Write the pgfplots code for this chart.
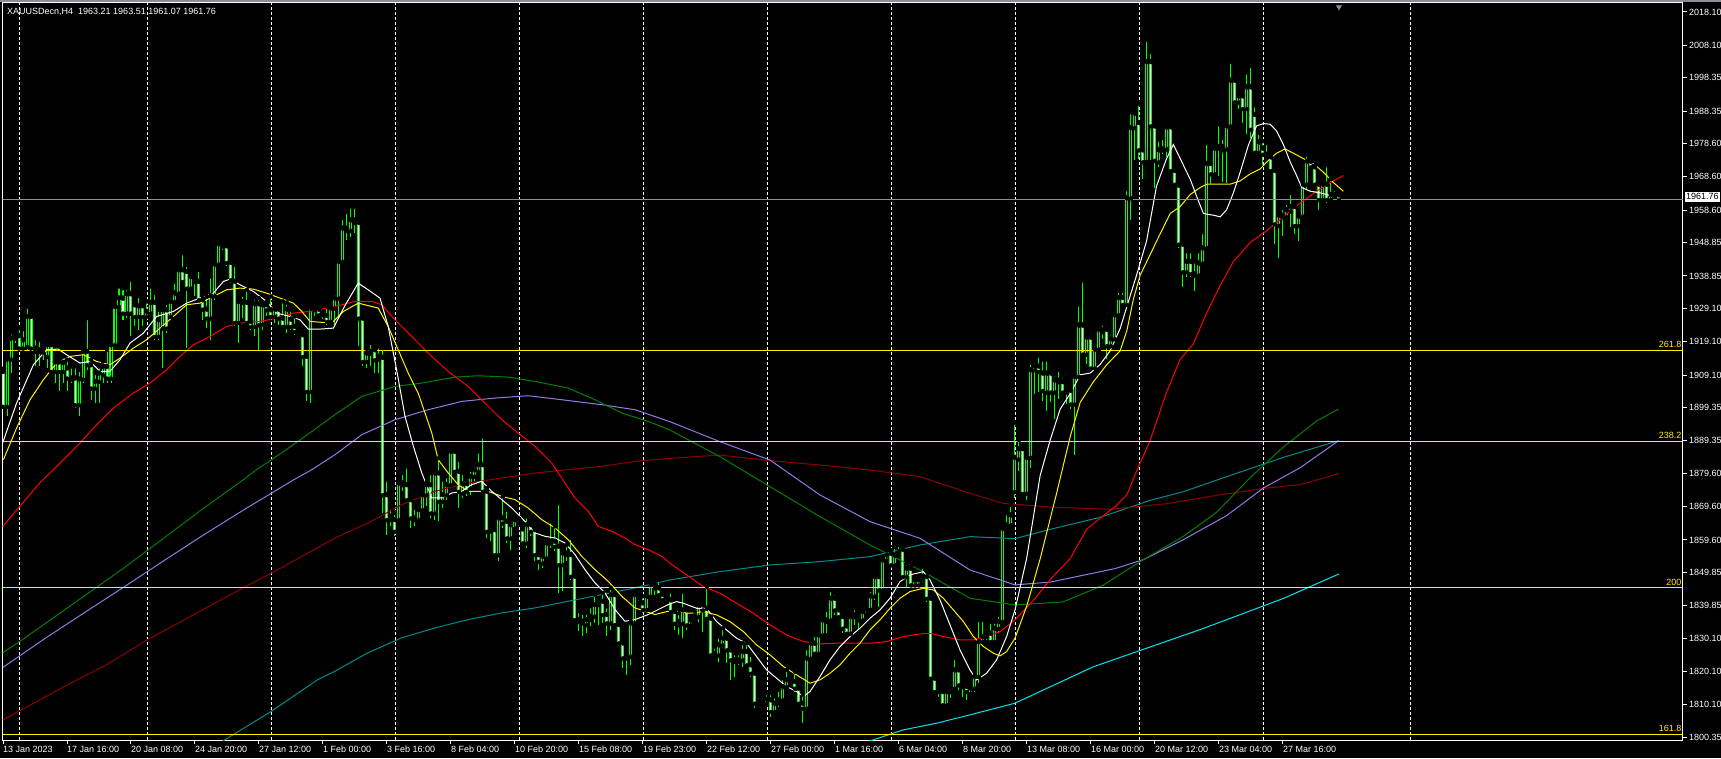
\documentclass[border=0pt]{standalone}
\usepackage{fontspec}
\setmainfont{Liberation Sans}
\usepackage{pgfplots}
\usepackage{pgfplotstable}
\pgfplotsset{compat=1.18}

\definecolor{cdl}{RGB}{0,255,0}
\definecolor{mared}{RGB}{255,0,0}
\definecolor{mamaroon}{RGB}{140,0,0}
\definecolor{magreen}{RGB}{0,128,0}
\definecolor{mapurple}{RGB}{150,120,230}
\definecolor{mateal}{RGB}{0,140,140}
\definecolor{macyan}{RGB}{0,230,240}
\definecolor{bidgray}{RGB}{140,140,150}
\newcommand\lab{\fontsize{9}{10}\selectfont}

% XAUUSD H4 candles: bar index, open, high, low, close
\pgfplotstableread{
i o h l c
0 1910.2 1911.0 1899.5 1899.7
1 1899.7 1914.7 1896.7 1913.9
2 1913.9 1921.9 1909.7 1920.2
3 1920.2 1921.9 1918.7 1920.9
4 1920.9 1923.2 1916.7 1917.2
5 1917.2 1922.9 1917.0 1919.7
6 1917.7 1929.7 1916.7 1926.7
7 1926.7 1927.2 1916.2 1917.2
8 1917.2 1920.2 1911.7 1916.2
9 1916.2 1919.7 1911.7 1916.7
10 1916.7 1917.7 1913.7 1916.0
11 1914.7 1919.2 1911.2 1918.2
12 1918.2 1919.2 1909.7 1910.2
13 1910.2 1913.2 1906.7 1913.0
14 1913.0 1913.2 1904.2 1910.2
15 1910.2 1914.7 1906.7 1912.9
16 1911.2 1913.7 1904.2 1908.2
17 1908.2 1911.7 1906.7 1907.9
18 1908.2 1911.7 1899.2 1900.2
19 1900.2 1910.7 1896.7 1907.9
20 1907.9 1917.2 1906.7 1916.2
21 1916.2 1926.2 1910.7 1912.2
22 1912.2 1913.7 1901.7 1905.2
23 1905.2 1909.7 1900.7 1907.2
24 1907.2 1911.7 1900.7 1909.7
25 1909.2 1913.2 1906.7 1911.7
26 1911.7 1916.7 1906.7 1908.2
27 1908.2 1918.7 1906.7 1918.2
28 1918.2 1930.2 1918.0 1929.7
29 1929.7 1935.7 1929.2 1932.2
30 1932.2 1935.2 1925.7 1927.7
31 1927.7 1935.2 1926.2 1933.5
32 1933.5 1937.7 1920.7 1927.7
33 1930.2 1931.2 1923.7 1926.7
34 1926.7 1932.9 1922.7 1929.9
35 1929.9 1930.2 1923.7 1926.7
36 1926.7 1931.2 1926.2 1928.2
37 1927.7 1935.7 1927.5 1930.9
38 1930.9 1933.7 1919.7 1920.7
39 1920.7 1928.7 1919.7 1925.7
40 1923.2 1929.7 1911.2 1928.7
41 1928.7 1930.7 1921.7 1923.2
42 1926.7 1932.7 1926.2 1931.2
43 1931.2 1937.2 1931.0 1933.7
44 1933.7 1941.7 1933.2 1940.7
45 1940.7 1945.7 1936.7 1937.2
46 1940.2 1942.2 1917.2 1935.2
47 1935.2 1938.9 1934.7 1938.7
48 1938.2 1938.7 1932.7 1937.2
49 1937.2 1940.7 1930.7 1931.7
50 1931.7 1932.2 1925.7 1928.9
51 1928.9 1932.7 1923.2 1926.2
52 1926.2 1938.7 1919.7 1932.9
53 1932.9 1942.9 1931.7 1942.4
54 1942.4 1949.2 1941.7 1948.5
55 1948.5 1949.5 1946.7 1947.7
56 1947.9 1949.2 1941.7 1942.9
57 1942.9 1943.2 1936.7 1937.7
58 1937.2 1942.2 1923.7 1924.9
59 1924.9 1931.5 1918.7 1931.2
60 1931.2 1933.2 1926.2 1930.9
61 1930.9 1934.7 1924.7 1924.9
62 1925.2 1925.5 1922.7 1923.7
63 1923.7 1932.2 1920.7 1930.5
64 1930.5 1932.2 1916.7 1924.2
65 1924.4 1930.7 1922.7 1930.2
66 1930.2 1931.2 1926.7 1928.7
67 1928.7 1932.7 1925.7 1926.7
68 1926.7 1930.2 1924.7 1928.9
69 1928.9 1929.7 1924.2 1926.2
70 1926.2 1931.2 1923.2 1923.7
71 1923.7 1930.9 1921.7 1928.9
72 1925.9 1928.7 1922.7 1923.7
73 1923.7 1926.7 1921.2 1922.2
74 1922.2 1922.7 1920.7 1921.2
75 1921.2 1921.5 1911.7 1914.7
76 1914.7 1915.2 1901.2 1904.2
77 1904.2 1929.7 1900.7 1929.2
78 1929.2 1929.7 1926.7 1928.7
79 1928.9 1929.2 1926.7 1927.2
80 1927.2 1928.2 1925.9 1927.7
81 1927.0 1929.7 1924.2 1925.2
82 1925.2 1929.7 1924.7 1929.2
83 1929.2 1933.7 1924.2 1932.2
84 1932.2 1943.7 1926.7 1943.2
85 1943.2 1956.2 1942.7 1953.2
86 1953.2 1958.2 1949.7 1952.5
87 1952.5 1959.7 1950.7 1955.7
88 1955.7 1959.7 1951.7 1954.9
89 1954.9 1955.2 1917.7 1926.2
90 1926.2 1926.7 1911.7 1913.2
91 1913.2 1916.0 1911.2 1915.7
92 1915.7 1918.7 1911.7 1916.2
93 1916.7 1917.2 1909.7 1913.7
94 1913.9 1917.7 1909.7 1914.7
95 1914.4 1917.2 1867.7 1873.2
96 1873.2 1877.7 1861.2 1865.7
97 1865.7 1869.2 1863.7 1866.7
98 1865.7 1867.7 1860.7 1862.2
99 1865.7 1877.2 1865.2 1876.7
100 1876.7 1879.7 1874.2 1876.2
101 1876.2 1881.7 1871.2 1871.7
102 1871.7 1872.2 1863.2 1866.2
103 1866.2 1869.2 1863.7 1865.7
104 1865.7 1870.2 1865.2 1868.7
105 1868.7 1874.7 1868.2 1873.2
106 1873.2 1877.2 1869.7 1876.2
107 1876.2 1879.7 1866.2 1867.7
108 1867.7 1880.2 1865.7 1879.7
109 1879.7 1884.2 1865.2 1871.2
110 1871.2 1877.7 1869.2 1873.2
111 1873.2 1878.7 1871.7 1876.2
112 1876.2 1886.7 1875.2 1886.2
113 1886.2 1886.7 1879.7 1880.2
114 1880.2 1883.7 1869.2 1874.2
115 1873.7 1879.7 1872.2 1876.5
116 1876.5 1877.2 1872.7 1874.2
117 1875.2 1880.7 1873.2 1878.7
118 1878.7 1882.2 1877.2 1880.7
119 1880.2 1886.2 1879.7 1882.2
120 1882.2 1890.7 1873.7 1874.2
121 1874.2 1875.2 1860.2 1862.2
122 1862.2 1863.7 1859.2 1863.2
123 1862.7 1863.7 1854.7 1855.2
124 1855.2 1866.7 1853.2 1866.2
125 1866.2 1872.7 1863.2 1864.7
126 1865.2 1868.7 1858.7 1860.2
127 1860.2 1865.7 1856.7 1864.2
128 1863.2 1866.2 1862.7 1865.7
129 1865.7 1866.0 1863.7 1864.7
130 1862.9 1864.2 1857.7 1858.7
131 1858.7 1866.7 1857.2 1864.2
132 1864.2 1864.7 1860.7 1862.2
133 1862.7 1863.7 1853.2 1855.2
134 1855.2 1855.7 1850.7 1853.2
135 1852.7 1855.2 1851.2 1854.7
136 1854.2 1859.2 1853.7 1858.7
137 1858.7 1865.2 1857.2 1859.2
138 1859.2 1863.7 1856.2 1857.7
139 1857.7 1870.7 1843.7 1852.2
140 1852.2 1856.7 1844.2 1855.7
141 1855.7 1858.2 1853.2 1855.2
142 1855.2 1860.2 1847.7 1848.7
143 1848.7 1849.2 1835.2 1835.7
144 1835.7 1838.2 1832.2 1835.2
145 1835.2 1837.7 1830.7 1834.7
146 1834.2 1837.7 1831.7 1835.7
147 1835.7 1839.7 1833.7 1836.7
148 1836.7 1843.2 1834.7 1840.2
149 1840.2 1842.2 1834.2 1841.2
150 1841.2 1843.7 1834.7 1837.2
151 1837.2 1839.7 1830.7 1834.7
152 1834.7 1845.2 1832.7 1843.2
153 1843.2 1843.7 1833.7 1834.2
154 1834.2 1834.7 1827.7 1828.7
155 1828.7 1829.2 1821.2 1824.2
156 1824.2 1825.7 1819.2 1824.7
157 1824.7 1835.2 1822.2 1834.7
158 1834.7 1843.7 1834.2 1843.2
159 1843.2 1844.2 1841.2 1842.2
160 1840.7 1842.7 1837.7 1838.7
161 1838.7 1843.2 1838.2 1842.7
162 1842.7 1847.7 1842.2 1846.2
163 1846.2 1847.7 1843.2 1845.2
164 1845.2 1847.7 1842.7 1843.2
165 1843.2 1844.2 1841.2 1841.7
166 1842.2 1842.7 1840.7 1841.2
167 1841.6 1844.1 1837.6 1838.1
168 1838.1 1839.1 1832.6 1834.6
169 1835.1 1837.6 1831.1 1834.1
170 1834.6 1844.1 1830.1 1838.6
171 1838.6 1839.1 1832.6 1834.1
172 1834.1 1836.6 1833.6 1835.6
173 1835.6 1838.1 1835.1 1836.6
174 1836.6 1840.6 1835.1 1840.1
175 1840.1 1841.1 1832.1 1838.6
176 1839.1 1845.6 1835.6 1836.1
177 1836.1 1836.6 1824.6 1825.1
178 1825.6 1827.6 1824.1 1824.6
179 1825.1 1830.6 1823.1 1828.1
180 1828.1 1833.1 1827.1 1830.1
181 1830.1 1830.3 1822.6 1826.6
182 1826.6 1827.6 1817.6 1823.6
183 1823.6 1825.6 1818.6 1823.1
184 1823.1 1825.6 1822.1 1823.6
185 1823.6 1828.6 1821.6 1826.1
186 1826.1 1828.6 1821.6 1822.1
187 1822.1 1825.1 1818.6 1819.6
188 1819.6 1819.8 1809.1 1810.6
189 1810.6 1812.6 1810.1 1811.1
190 1811.1 1812.6 1810.1 1810.6
191 1810.6 1813.6 1810.3 1811.8
192 1811.6 1813.6 1806.6 1808.1
193 1808.1 1812.6 1807.6 1810.6
194 1810.6 1814.6 1809.6 1811.6
195 1811.6 1818.1 1811.1 1815.6
196 1815.6 1820.6 1815.1 1817.6
197 1817.6 1819.1 1816.6 1817.1
198 1817.1 1820.1 1814.1 1815.1
199 1815.1 1815.6 1810.1 1810.6
200 1810.6 1813.1 1804.6 1809.1
201 1809.1 1827.1 1808.6 1824.1
202 1824.1 1829.1 1823.6 1828.6
203 1828.6 1831.1 1825.1 1825.6
204 1825.6 1831.6 1825.1 1831.1
205 1831.1 1836.1 1830.6 1835.6
206 1835.6 1838.6 1831.6 1835.1
207 1835.6 1844.6 1835.1 1842.1
208 1842.1 1843.6 1837.1 1838.6
209 1838.6 1839.1 1836.1 1836.6
210 1836.6 1837.1 1831.6 1833.1
211 1833.8 1834.6 1831.1 1831.6
212 1831.6 1837.6 1831.1 1836.6
213 1836.6 1839.1 1834.1 1837.1
214 1836.6 1837.1 1832.6 1835.6
215 1835.6 1838.6 1835.1 1838.1
216 1837.6 1839.6 1837.1 1838.8
217 1838.8 1844.6 1838.1 1842.8
218 1842.8 1849.1 1841.6 1848.6
219 1848.6 1849.1 1839.6 1844.6
220 1844.6 1854.6 1844.1 1853.6
221 1853.6 1856.6 1853.1 1855.1
222 1855.6 1856.6 1851.6 1852.1
223 1852.1 1857.6 1851.6 1855.1
224 1855.1 1858.1 1854.6 1856.1
225 1856.8 1857.1 1848.1 1848.6
226 1848.6 1852.6 1845.6 1851.1
227 1851.1 1851.6 1845.6 1846.1
228 1846.1 1848.6 1845.6 1847.6
229 1847.6 1848.6 1845.1 1846.1
230 1847.6 1851.6 1846.6 1848.6
231 1848.6 1850.1 1841.1 1842.1
232 1842.1 1842.6 1817.6 1818.1
233 1818.1 1818.6 1813.6 1814.1
234 1814.1 1815.1 1812.6 1814.4
235 1814.1 1814.6 1809.6 1810.1
236 1810.1 1814.6 1809.6 1814.1
237 1814.1 1816.6 1812.1 1815.1
238 1815.1 1824.1 1814.6 1820.6
239 1820.6 1822.1 1814.6 1816.1
240 1816.1 1816.6 1812.6 1815.6
241 1815.6 1816.1 1811.6 1814.1
242 1813.6 1815.6 1813.1 1815.1
243 1815.1 1819.1 1814.1 1818.6
244 1818.6 1835.6 1816.6 1829.1
245 1829.1 1835.6 1828.6 1830.6
246 1830.6 1833.1 1829.6 1831.6
247 1831.6 1835.1 1828.6 1829.1
248 1829.1 1835.1 1828.6 1833.1
249 1833.1 1837.1 1831.6 1835.1
250 1835.1 1863.6 1834.6 1863.1
251 1863.1 1867.6 1862.6 1864.1
252 1864.1 1870.1 1863.6 1867.1
253 1874.1 1894.8 1872.1 1884.4
254 1883.9 1889.6 1880.3 1887.0
255 1887.0 1887.5 1873.1 1873.6
256 1873.6 1885.5 1871.6 1884.4
257 1884.4 1912.8 1881.3 1910.7
258 1910.7 1913.3 1903.5 1911.8
259 1911.8 1914.9 1904.0 1910.2
260 1909.7 1913.8 1901.4 1904.5
261 1904.0 1913.8 1898.4 1909.7
262 1909.7 1910.7 1901.0 1904.0
263 1904.0 1909.2 1895.8 1907.6
264 1907.6 1910.7 1902.0 1907.1
265 1907.1 1908.7 1903.5 1904.0
266 1904.0 1905.6 1900.4 1904.5
267 1904.5 1905.6 1898.8 1900.4
268 1900.4 1908.9 1885.0 1908.7
269 1908.7 1930.3 1908.2 1924.1
270 1924.1 1937.5 1914.9 1915.4
271 1915.4 1921.6 1912.3 1920.5
272 1920.5 1921.0 1911.0 1911.2
273 1911.2 1918.5 1910.7 1916.9
274 1916.9 1923.6 1916.4 1922.8
275 1922.8 1924.6 1920.0 1922.1
276 1922.8 1924.1 1913.8 1917.9
277 1917.9 1921.6 1917.4 1920.0
278 1920.0 1927.7 1919.5 1927.2
279 1927.2 1934.4 1926.7 1932.4
280 1932.4 1934.4 1929.8 1930.3
281 1930.3 1964.9 1929.8 1962.3
282 1962.3 1988.0 1955.6 1983.4
283 1983.4 1988.0 1973.6 1987.7
284 1984.9 1990.6 1974.1 1976.7
285 1976.7 1977.2 1968.0 1973.1
286 1973.3 2009.7 1973.1 2003.2
287 2003.2 2006.1 1973.6 1983.9
288 1983.9 1984.4 1965.4 1973.6
289 1973.1 1979.8 1971.5 1976.7
290 1976.7 1980.3 1975.6 1977.0
291 1977.0 1984.9 1974.6 1983.6
292 1983.6 1984.4 1970.0 1970.5
293 1970.5 1971.0 1965.9 1966.4
294 1966.1 1967.4 1947.3 1948.4
295 1948.4 1948.9 1935.5 1940.1
296 1940.1 1946.3 1938.6 1943.2
297 1943.2 1946.3 1938.6 1939.6
298 1939.6 1943.2 1934.4 1939.1
299 1939.1 1946.3 1938.6 1942.7
300 1942.7 1952.0 1942.2 1947.3
301 1947.3 1978.8 1946.8 1972.6
302 1972.6 1973.1 1966.4 1969.5
303 1969.5 1977.7 1969.0 1977.2
304 1977.2 1984.4 1969.0 1977.7
305 1977.7 1980.3 1967.0 1976.7
306 1977.0 1984.4 1966.9 1983.9
307 1983.9 2003.2 1983.4 1997.6
308 1997.6 1998.9 1990.6 1991.1
309 1991.1 1993.2 1989.1 1992.9
310 1992.9 1993.2 1984.9 1989.1
311 1989.1 2000.0 1981.4 1995.6
312 1995.6 2002.0 1980.3 1982.9
313 1987.3 1990.1 1975.7 1976.0
314 1976.0 1981.9 1975.2 1979.1
315 1977.2 1979.3 1972.1 1975.4
316 1975.4 1978.8 1974.1 1974.6
317 1974.6 1975.7 1970.0 1970.5
318 1970.5 1971.5 1948.4 1954.5
319 1954.0 1957.6 1944.2 1957.1
320 1957.1 1959.2 1950.9 1956.6
321 1956.6 1960.7 1956.2 1958.7
322 1958.3 1963.8 1953.5 1959.7
323 1959.7 1960.7 1951.4 1954.0
324 1954.0 1957.6 1949.4 1956.8
325 1956.8 1966.9 1956.6 1966.4
326 1966.4 1975.2 1964.9 1973.3
327 1973.3 1974.1 1971.0 1971.6
328 1971.6 1972.1 1965.9 1966.4
329 1966.4 1966.9 1958.7 1961.8
330 1961.8 1967.4 1961.2 1966.4
331 1966.4 1972.1 1960.7 1961.8
332 1961.8 1967.9 1961.2 1963.3
333 1963.3 1964.9 1962.3 1962.8
334 1963.21 1963.51 1961.07 1961.76
}\candles

\begin{document}
\begin{tikzpicture}[x=1pt,y=1pt]
\fill[black] (-2.5,-18) rectangle (1718.5,740);
\useasboundingbox (-2.5,-18) rectangle (1718.5,740);
\fill[bidgray] (-2.5,738.4) rectangle (1718.5,740);
\begin{axis}[
  at={(0,0)}, anchor=south west,
  scale only axis, width=1680.5pt, height=737pt,
  xmin=-0.125, xmax=420, ymin=1799.55, ymax=2020.8,
  axis line style={white, line width=1pt},
  tick align=outside, major tick length=4pt,
  tick style={white, line width=1pt},
  xtick pos=left, xticklabel pos=left,
  ytick pos=right, yticklabel pos=right,
  ticklabel style={font=\lab, text=white, inner sep=0pt},
  xticklabel style={anchor=north west, yshift=-2pt},
  yticklabel style={anchor=west, xshift=2pt},
  xtick={0,16,...,320},
  xticklabels={13 Jan 2023,17 Jan 16:00,20 Jan 08:00,24 Jan 20:00,27 Jan 12:00,1 Feb 00:00,3 Feb 16:00,8 Feb 04:00,10 Feb 20:00,15 Feb 08:00,19 Feb 23:00,22 Feb 12:00,27 Feb 00:00,1 Mar 16:00,6 Mar 04:00,8 Mar 20:00,13 Mar 08:00,16 Mar 00:00,20 Mar 12:00,23 Mar 04:00,27 Mar 16:00},
  ytick={1800.35,1810.10,1820.10,1830.10,1839.85,1849.85,1859.60,1869.60,1879.60,1889.35,1899.35,1909.10,1919.10,1929.10,1938.85,1948.85,1958.60,1968.60,1978.60,1988.35,1998.35,2008.10,2018.10},
  yticklabels={1800.35,1810.10,1820.10,1830.10,1839.85,1849.85,1859.60,1869.60,1879.60,1889.35,1899.35,1909.10,1919.10,1929.10,1938.85,1948.85,1958.60,1968.60,1978.60,1988.35,1998.35,2008.10,2018.10},
  extra x ticks={4.08,36.08,67.2,98.1,129.1,160.1,191.1,222.1,253.1,284.1,315.1,352},
  extra x tick labels={},
  extra x tick style={grid=major, major tick length=0pt},
  major grid style={white, line width=1pt, dash pattern=on 3pt off 2pt},
]
% wicks
\addplot[only marks, mark=none, error bars/.cd, y dir=minus, y explicit, error mark=none,
  error bar style={draw=cdl, line width=1pt}]
  table[x=i, y=h, y error minus expr={\thisrow{h}-\thisrow{l}}] {\candles};
% bodies
\addplot[only marks, mark=none, error bars/.cd, y dir=minus, y explicit, error mark=none,
  error bar style={draw=cdl, line width=3pt}]
  table[x=i, y expr={max(\thisrow{o},\thisrow{c})+0.15}, y error minus expr={abs(\thisrow{o}-\thisrow{c})+0.3}] {\candles};
% bear candle fill
\addplot[only marks, mark=none, error bars/.cd, y dir=minus, y explicit, error mark=none,
  error bar style={draw=white, line width=1pt}]
  table[x=i, y expr={\thisrow{o}-0.15}, y error minus expr={max(\thisrow{o}-\thisrow{c}-0.3,0)}] {\candles};
% bull candle fill
\addplot[only marks, mark=none, error bars/.cd, y dir=minus, y explicit, error mark=none,
  error bar style={draw=black, line width=1pt}]
  table[x=i, y expr={\thisrow{c}-0.15}, y error minus expr={max(\thisrow{c}-\thisrow{o}-0.3,0)}] {\candles};

% moving averages
\addplot[macyan, line width=1pt] coordinates {(205,1795) (217.6,1799.6) (225.1,1802.6) (233.4,1804.6) (241.75,1807.1) (253,1810.6) (272.5,1821.5) (300,1833.0) (320,1842) (334,1849.4)};
\addplot[mateal, line width=1pt] coordinates {(50,1795.5) (55.6,1799.7) (67,1808.1) (78.6,1817.6) (83,1820.2) (91,1825.6) (99.6,1830.2) (108,1833.2) (116.3,1835.7) (124.7,1837.7) (133,1839.2) (141.3,1841.2) (149.7,1843.2) (158,1845.2) (166.75,1847.6) (179.25,1850.1) (191.75,1852.1) (204.25,1853.1) (216.75,1854.6) (229.25,1858.1) (241.75,1860.6) (253,1860.0) (261.8,1862.8) (274.3,1866.4) (286.8,1871.5) (295.1,1874.1) (307.6,1879.3) (320.1,1884.4) (333.9,1889.4)};
\addplot[mamaroon, line width=1pt] coordinates {(-0.2,1805.5) (4,1808.2) (16.4,1816.3) (26,1822.2) (36,1829.6) (50,1838.7) (60,1845.2) (70,1851.5) (83,1860.2) (91.3,1864.7) (99.7,1870.2) (108,1874.2) (116.3,1876.7) (124.7,1878.2) (133,1879.7) (141.3,1880.7) (149.7,1881.7) (158,1883.2) (166.75,1884.1) (179.25,1885.1) (191.75,1883.4) (204.25,1882.1) (216.75,1880.6) (229.25,1878.6) (241.75,1873.6) (250,1870.6) (261.8,1869.5) (276.8,1868.8) (291,1870.5) (303.4,1873.0) (316,1875.2) (324.3,1876.2) (334,1879.5)};
\addplot[mapurple, line width=1pt] coordinates {(-0.2,1821.2) (10.7,1830.2) (20,1837.5) (30,1845.3) (40,1853.2) (50,1861) (60,1868.5) (72.6,1877.6) (77.2,1880.7) (83,1885.2) (89.7,1891.2) (98,1895.7) (106.3,1898.7) (114.7,1901.2) (123,1902.2) (131.3,1902.9) (139.7,1901.7) (149.7,1900.2) (158,1898.7) (166.75,1895.1) (179.25,1889.1) (191.75,1883.6) (204.25,1873.1) (216.75,1865.1) (229.25,1860.1) (241.75,1850.6) (253,1846.1) (262,1847) (270,1849) (278,1851) (285.1,1853.7) (295.1,1859.7) (305.9,1866.9) (315.1,1875.2) (324.3,1881.3) (333.9,1889.4)};
\addplot[magreen, line width=1pt] coordinates {(-0.2,1825.6) (5,1829.8) (20,1842.5) (30,1851) (40,1860) (50,1869) (60,1877.6) (63.4,1880.7) (70,1886) (77,1892) (83,1897.2) (89.7,1902.7) (98,1905.7) (104.7,1906.7) (113,1908.5) (118.8,1908.9) (126.3,1908.5) (133,1907.2) (141.3,1905.2) (148,1901.7) (154.7,1897.7) (161.3,1895.2) (166.75,1892.6) (179.25,1884.6) (191.75,1875.6) (204.25,1866.6) (216.75,1858.1) (229.25,1850.6) (241.75,1842.1) (253,1840.1) (265,1841) (275,1846) (285.1,1853.7) (295.1,1860.7) (303.4,1867.9) (311.8,1878.3) (320.1,1887.5) (328.4,1895.3) (333.9,1898.9)};
\addplot[mared, line width=1pt] coordinates {(-0.2,1863.5) (9.25,1876.8) (12.6,1880.7) (19.25,1888.7) (23.4,1894.2) (27.6,1899.2) (32.6,1903.7) (36.75,1906.7) (40.9,1910.7) (44.25,1914.7) (47.6,1918.2) (51.75,1920.7) (55.9,1923.7) (59.25,1924.7) (64.25,1925.2) (68.4,1926.2) (72.6,1927.7) (76.75,1928.2) (80.9,1929.2) (84.7,1930.2) (88,1931.2) (92.2,1931.2) (94.7,1930.2) (98,1925.7) (102.2,1920.7) (106.3,1915.7) (111.3,1910.2) (116.3,1905.7) (120.5,1900.7) (124.7,1895.7) (128.8,1891.7) (133,1887.7) (137.2,1882.7) (140.5,1876.7) (143,1872.2) (146.3,1868.2) (148.8,1863.7) (152.2,1862.2) (155.5,1860.2) (158,1858.2) (161.3,1856.7) (164.7,1854.7) (166.75,1852.6) (170.9,1849.1) (175.1,1845.6) (179.25,1843.6) (183.4,1840.6) (187.6,1837.6) (191.75,1834.1) (195.9,1831.1) (200.1,1829.1) (204.25,1828.4) (208.4,1828.6) (212.6,1828.6) (216.75,1828.6) (220.9,1829.1) (225.1,1830.6) (229.25,1831.4) (231.75,1831.6) (235.1,1830.6) (239.25,1829.6) (242.6,1829.6) (245.9,1830.6) (249.25,1832.1) (253,1835.6) (258,1842) (262,1848) (266.8,1854.0) (270.9,1862.8) (275.1,1866.9) (278.4,1870.0) (281,1873.2) (283.4,1880.3) (286.8,1889.5) (290.9,1904.0) (294.3,1913.8) (297.6,1918.5) (300.9,1927.7) (304.3,1936.0) (307.6,1943.2) (311.8,1948.9) (316,1952.5) (320.1,1956.6) (324.3,1960.7) (328.4,1964.3) (332.6,1967.4) (335.1,1969.0)};
\addplot[yellow, line width=1pt] coordinates {(0.1,1883.7) (3.4,1893.2) (6.75,1901.7) (10.1,1907.7) (13.4,1912.7) (16.75,1914.7) (20.1,1915.2) (23.4,1913.2) (26.75,1912.2) (29.25,1914.2) (32.6,1917.2) (35.9,1919.7) (39.25,1923.2) (42.6,1926.7) (45.9,1930.2) (49.25,1930.7) (52.6,1932.7) (55.9,1934.7) (59.25,1935.2) (62.6,1934.9) (65.9,1933.7) (69.25,1932.2) (72.6,1930.7) (74.7,1928.2) (76.75,1925.2) (80.1,1924.9) (82.6,1925.2) (85.1,1928.2) (88.8,1930.7) (93.8,1929.2) (96.3,1923.7) (98.8,1916.7) (101.3,1909.7) (103.8,1903.7) (105.5,1897.7) (107.2,1891.7) (108.8,1883.7) (111.3,1879.7) (113.8,1876.2) (116.3,1874.2) (118.8,1874.2) (121.3,1874.2) (124.7,1872.7) (128,1871.7) (131.3,1869.2) (134.7,1865.7) (138,1863.2) (141.3,1859.7) (144.7,1854.7) (148,1850.7) (151.3,1847.2) (154.7,1842.7) (158,1839.2) (160.5,1838.2) (163,1837.2) (166.3,1838.2) (168.4,1838.1) (171.75,1837.6) (175.1,1838.1) (178.4,1837.1) (181.75,1835.1) (185.1,1832.1) (188.4,1828.1) (191.75,1825.1) (195.1,1821.6) (198.4,1819.1) (201.75,1816.6) (204.25,1817.6) (206.75,1819.6) (209.25,1822.1) (211.75,1825.6) (214.25,1828.6) (216.75,1832.6) (219.25,1835.6) (221.75,1839.1) (224.25,1842.1) (226.75,1844.1) (230.1,1845.1) (232.6,1844.6) (235.1,1842.1) (237.6,1838.6) (240.1,1835.1) (242.6,1830.6) (245.1,1827.6) (247.6,1825.6) (249.25,1824.8) (250.9,1826.1) (253,1830.1) (256,1840) (259.3,1854.0) (263.4,1873.6) (266.8,1890.6) (269.3,1900.9) (272.6,1907.1) (276,1912.3) (279.3,1916.4) (281,1922.6) (282.6,1931.9) (284.3,1939.1) (286.8,1945.3) (289.3,1951.5) (291.8,1957.6) (294.3,1959.7) (296.8,1963.3) (299.3,1965.4) (301,1966.4) (303.4,1966.4) (306.8,1966.4) (309.3,1967.4) (311.8,1969.5) (314.3,1971.0) (316.8,1974.1) (318.4,1975.7) (320.5,1977.0) (322.6,1975.7) (325.1,1974.1) (327.6,1972.6) (330.1,1970.0) (332.6,1966.9) (335.1,1964.3)};
\addplot[white, line width=1pt] coordinates {(-0.1,1888.7) (3.4,1900.7) (7.6,1912.2) (10.9,1916.7) (13.8,1916.9) (15.9,1915.2) (19.25,1912.7) (21.75,1913.2) (24.25,1910.2) (26.75,1910.2) (29.25,1913.7) (31.75,1918.7) (35.1,1921.7) (38.4,1926.7) (42.6,1928.2) (45.9,1930.7) (49.25,1932.2) (52.6,1933.7) (55.1,1937.2) (56.75,1937.9) (59.25,1936.2) (62.6,1934.2) (65.9,1931.2) (68.4,1927.7) (71.75,1926.7) (74.25,1925.7) (76.3,1922.9) (79.25,1922.9) (82.6,1923.2) (85.5,1930) (88.8,1936.7) (91.3,1934.7) (94.25,1932.2) (96.3,1923.7) (98.4,1910.7) (100.5,1896.7) (102.6,1887.7) (104.7,1879.7) (107.2,1872.2) (109.7,1872.2) (112.2,1873.7) (114.7,1874.2) (117.2,1876.2) (119.7,1877.2) (122.2,1874.2) (124.7,1871.7) (127.2,1869.2) (130.5,1865.2) (133,1861.7) (135.5,1860.7) (138,1860.2) (140.5,1858.7) (143,1855.2) (145.5,1850.7) (148,1846.7) (150.5,1843.7) (153,1838.7) (155.5,1835.2) (158,1835.7) (161.3,1837.2) (163.8,1838.7) (166.3,1840.2) (168.4,1841.1) (170.1,1840.6) (173.4,1839.1) (175.9,1839.1) (178.4,1835.1) (180.9,1832.6) (183.4,1830.1) (185.9,1828.6) (188.4,1824.6) (190.9,1820.6) (193.4,1818.1) (195.9,1815.6) (198.4,1814.1) (200.1,1812.6) (201.75,1814.1) (204.25,1818.6) (206.75,1823.6) (209.25,1827.6) (211.75,1830.6) (214.25,1833.1) (216.75,1836.1) (219.25,1838.6) (221.75,1842.1) (224.25,1847.1) (226.75,1849.1) (230.1,1850.1) (231.75,1847.6) (234.25,1841.6) (236.75,1834.1) (239.25,1826.6) (241.75,1820.6) (243.4,1817.6) (245.9,1819.6) (248.4,1823.6) (250.9,1830.6) (253,1838.6) (255.9,1854.0) (259.3,1879) (261.8,1889.6) (264.3,1898.9) (266.8,1903.5) (269.3,1909.2) (271.8,1909.7) (274.3,1912.3) (276.8,1916.4) (279.3,1923.1) (281.8,1932.9) (283.4,1939.1) (285.9,1949.4) (288.4,1965.9) (290.9,1974.1) (292.6,1978.3) (294.7,1973.1) (296.8,1967.9) (298.4,1962.8) (300.1,1957.6) (302.6,1957.1) (304.3,1956.6) (305.9,1958.7) (307.6,1963.8) (309.3,1970.0) (311.4,1978.3) (313.4,1983.9) (315.1,1984.6) (316.8,1984.4) (318.4,1982.4) (320.1,1978.3) (321.8,1973.1) (323.4,1969.0) (324.7,1965.4) (326.8,1964.3) (329.3,1963.8) (331.8,1963.0) (334.3,1962.8)};

% fibonacci expansion levels and bid line
\addplot[yellow, line width=1pt] coordinates {(-1,1916.4) (421,1916.4)};
\addplot[yellow, line width=1pt] coordinates {(-1,1889.2) (421,1889.2)};
\addplot[yellow, line width=1pt] coordinates {(-1,1845.2) (421,1845.2)};
\addplot[yellow, line width=1pt] coordinates {(-1,1801.3) (421,1801.3)};
\addplot[bidgray, line width=1pt] coordinates {(-1,1961.76) (421,1961.76)};
\addplot[only marks, mark=triangle*, mark size=3pt, mark options={rotate=180, fill=bidgray, draw=bidgray}] coordinates {(334,2019.6)};

\node[anchor=south east, inner sep=0pt, text=yellow, font=\lab, xshift=-1.3pt, yshift=2.5pt] at (axis cs:420,1916.4) {261.8};
\node[anchor=south east, inner sep=0pt, text=yellow, font=\lab, xshift=-1.3pt, yshift=2.5pt] at (axis cs:420,1889.2) {238.2};
\node[anchor=south east, inner sep=0pt, text=yellow, font=\lab, xshift=-1.3pt, yshift=2.5pt] at (axis cs:420,1845.2) {200};
\node[anchor=south east, inner sep=0pt, text=yellow, font=\lab, xshift=-1.3pt, yshift=2.5pt] at (axis cs:420,1801.3) {161.8};
\end{axis}
\node[anchor=west, fill=white, text=black, font=\lab, inner xsep=1pt, inner ysep=1.5pt] at (1682.5,737-58.2*3.331) {1961.76};
\node[anchor=west, inner sep=0pt, text=white, font=\lab] at (4.5,728) {XAUUSDecn,H4\ \ 1963.21 1963.51 1961.07 1961.76};
\end{tikzpicture}
\end{document}
